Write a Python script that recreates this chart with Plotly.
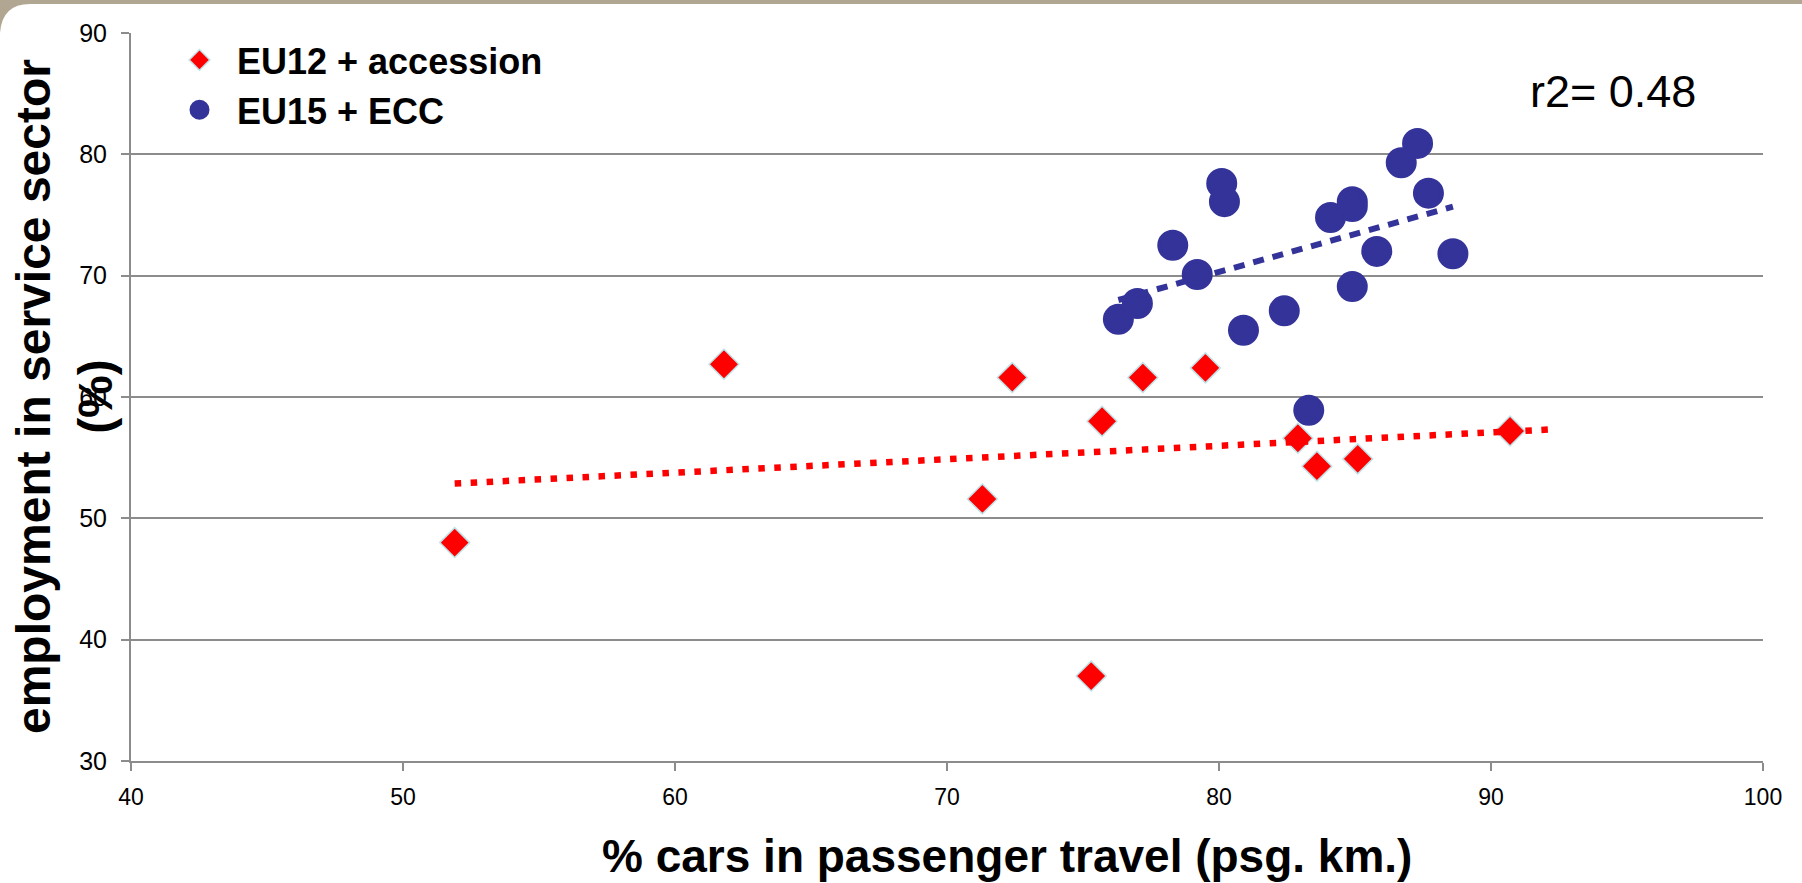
import numpy as np
import plotly.graph_objects as go

# ---------------- data ----------------
eu12_x = [51.9, 61.8, 71.3, 72.4, 75.3, 75.7, 77.2, 79.5, 82.9, 83.6, 85.1, 90.7]
eu12_y = [48.0, 62.7, 51.6, 61.6, 37.0, 58.0, 61.6, 62.4, 56.6, 54.3, 54.9, 57.2]

eu15_x = [76.3, 77.0, 78.3, 79.2, 80.1, 80.2, 80.9, 82.4, 83.3, 84.1,
          84.9, 84.9, 84.9, 85.8, 86.7, 87.3, 87.7, 88.6]
eu15_y = [66.4, 67.7, 72.5, 70.1, 77.6, 76.1, 65.5, 67.1, 58.9, 74.8,
          76.1, 75.7, 69.1, 72.0, 79.3, 80.9, 76.8, 71.8]

series_names = ["EU12 + accession", "EU15 + ECC"]
x_ticks = [40, 50, 60, 70, 80, 90, 100]
y_ticks = [30, 40, 50, 60, 70, 80, 90]
r2_label = "r2= 0.48"
x_title = "% cars in passenger travel (psg. km.)"
y_title = "employment in service sector<br>(%)"
red_forward = 1.6  # trendline forecast forward (x units)

# ---------------- layout geometry ----------------
W, H = 1802, 883
L, R, T, B = 131, 39, 33, 122
pw, ph = W - L - R, H - T - B


def px(x):
    return (x - L) / pw


def py(y):
    return (H - B - y) / ph


def trend(xs, ys, forward=0.0):
    k, b = np.polyfit(xs, ys, 1)
    x0, x1 = min(xs), max(xs) + forward
    return [x0, x1], [k * x0 + b, k * x1 + b]


FONT = "Liberation Sans, Arial, Helvetica, sans-serif"
RED = "#FF0000"
BLUE = "#333399"
GRID = "#8C8C8C"

fig = go.Figure()

fig.add_trace(go.Scatter(
    x=eu12_x, y=eu12_y, mode="markers", name=series_names[0],
    marker=dict(symbol="diamond", size=23, color=RED,
                line=dict(color="#BFE3E8", width=1.5)),
))
fig.add_trace(go.Scatter(
    x=eu15_x, y=eu15_y, mode="markers", name=series_names[1],
    marker=dict(symbol="circle", size=27, color=BLUE,
                line=dict(color=BLUE, width=4)),
))

rx, ry = trend(eu12_x, eu12_y, red_forward)
fig.add_trace(go.Scatter(
    x=rx, y=ry, mode="lines", showlegend=False, hoverinfo="skip",
    line=dict(color=RED, width=6.5, dash="6.5px,9.5px"),
))
bx, by = trend(eu15_x, eu15_y)
fig.add_trace(go.Scatter(
    x=bx, y=by, mode="lines", showlegend=False, hoverinfo="skip",
    line=dict(color=BLUE, width=6, dash="11px,9px"),
))

fig.update_layout(
    width=W, height=H,
    margin=dict(l=L, r=R, t=T, b=B, pad=0),
    paper_bgcolor="white", plot_bgcolor="white",
    font=dict(family=FONT, color="black"),
    showlegend=True,
    legend=dict(
        x=px(162), y=py(30), xanchor="left", yanchor="top",
        font=dict(size=36, family=FONT, color="black", weight="bold"),
        itemwidth=65, bgcolor="rgba(0,0,0,0)", borderwidth=0,
        tracegroupgap=0,
    ),
    xaxis=dict(
        range=[40, 100], tickvals=x_ticks, showgrid=False, zeroline=False,
        showline=True, linecolor=GRID, linewidth=2,
        ticks="outside", ticklen=8, tickwidth=2, tickcolor=GRID,
        tickfont=dict(size=23, family=FONT, color="black"),
        ticklabelstandoff=6,
    ),
    yaxis=dict(
        range=[30, 90], tickvals=y_ticks, showgrid=True, gridcolor=GRID,
        gridwidth=2, zeroline=False,
        showline=True, linecolor=GRID, linewidth=2,
        ticks="outside", ticklen=8, tickwidth=2, tickcolor=GRID,
        tickfont=dict(size=25, family=FONT, color="black"),
        ticklabelstandoff=9,
    ),
    annotations=[
        dict(text=x_title, xref="paper", yref="paper", x=px(1007), y=py(856),
             xanchor="center", yanchor="middle", showarrow=False,
             font=dict(size=46, family=FONT, color="black", weight="bold")),
        dict(text=y_title, xref="paper", yref="paper", x=px(64), y=0.5,
             xanchor="center", yanchor="middle", showarrow=False, textangle=-90,
             font=dict(size=48, family=FONT, color="black", weight="bold")),
        dict(text=r2_label, xref="paper", yref="paper", x=px(1613), y=py(91),
             xanchor="center", yanchor="middle", showarrow=False,
             font=dict(size=45, family=FONT, color="black")),
    ],
    shapes=[
        dict(type="path", xref="paper", yref="paper", layer="above",
             path=(f"M {px(0)},{py(0)} L {px(W)},{py(0)} L {px(W)},{py(4)} "
                   f"L {px(30)},{py(4)} Q {px(2)},{py(4)} {px(0)},{py(33)} Z"),
             fillcolor="#B1A691", line=dict(width=0)),
    ],
)

fig.write_html(
    "out.html",
    config={"displayModeBar": False},
    post_script="document.body.style.margin='0px';document.body.style.overflow='hidden';",
)
